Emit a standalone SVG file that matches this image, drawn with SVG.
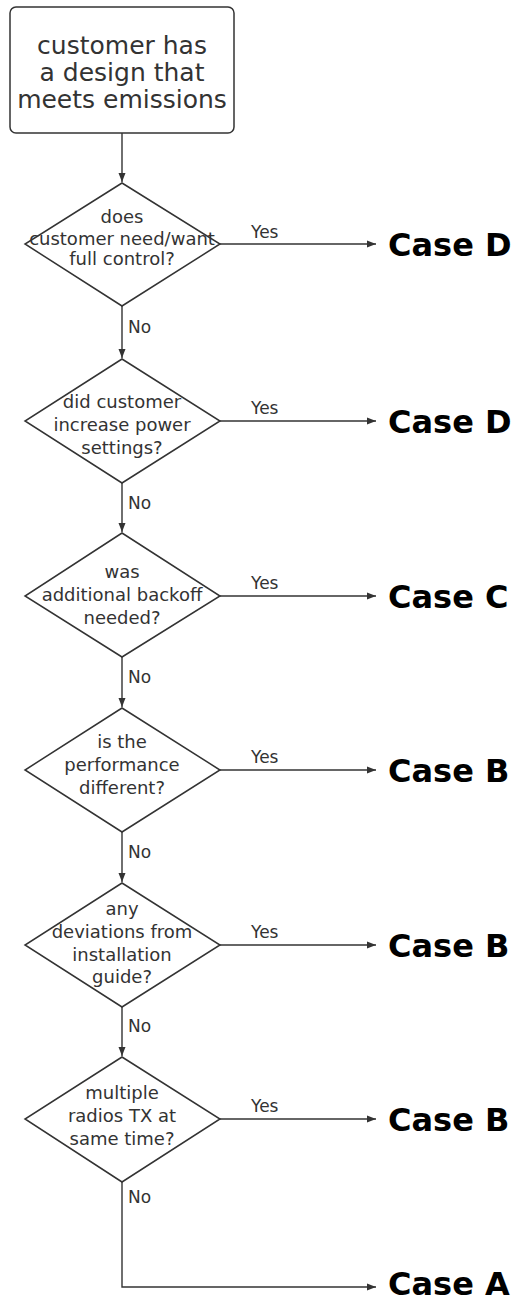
<svg xmlns="http://www.w3.org/2000/svg" width="517" height="1304" viewBox="0 0 517 1304">
<style>
.shape{fill:#fff;stroke:#333;stroke-width:1.5}
.q{font-family:"DejaVu Sans",Verdana,sans-serif;font-size:18px;fill:#333;text-anchor:middle}
.lbl{font-family:"DejaVu Sans",Verdana,sans-serif;font-size:17px;fill:#333}
.case{font-family:"DejaVu Sans",Verdana,sans-serif;font-size:32px;font-weight:bold;fill:#000}
.c{fill:none;stroke:#333;stroke-width:1.4;marker-end:url(#ah)}
</style>
<defs>
<marker id="ah" markerWidth="10" markerHeight="8" refX="9" refY="4" orient="auto" markerUnits="userSpaceOnUse">
<path d="M0,0.5 L9,4 L0,7.5 Z" fill="#333"/>
</marker>
</defs>
<rect width="517" height="1304" fill="#fff"/>
<g id="connectors">
<path class="c" d="M122,133 V182"/>
<path class="c" d="M122,306 V358"/>
<path class="c" d="M122,483 V532"/>
<path class="c" d="M122,657 V707"/>
<path class="c" d="M122,832 V882"/>
<path class="c" d="M122,1007 V1056"/>
<path class="c" d="M122,1182 V1287 H376"/>
<path class="c" d="M220,244 H376"/>
<path class="c" d="M220,421 H376"/>
<path class="c" d="M220,596 H376"/>
<path class="c" d="M220,770 H376"/>
<path class="c" d="M220,945 H376"/>
<path class="c" d="M220,1119 H376"/>
<text class="lbl" x="251" y="238">Yes</text>
<text class="lbl" x="251" y="414">Yes</text>
<text class="lbl" x="251" y="589">Yes</text>
<text class="lbl" x="251" y="763">Yes</text>
<text class="lbl" x="251" y="938">Yes</text>
<text class="lbl" x="251" y="1112">Yes</text>
<text class="lbl" x="128" y="333">No</text>
<text class="lbl" x="128" y="509">No</text>
<text class="lbl" x="128" y="683">No</text>
<text class="lbl" x="128" y="858">No</text>
<text class="lbl" x="128" y="1032">No</text>
<text class="lbl" x="128" y="1203">No</text>
</g>
<g id="start">
<rect class="shape" x="10" y="7" width="224" height="126" rx="6"/>
<text class="q" style="font-size:25px" x="122" y="54">customer has</text>
<text class="q" style="font-size:25px" x="122" y="81">a design that</text>
<text class="q" style="font-size:25px" x="122" y="108">meets emissions</text>
</g>
<g id="q1">
<polygon class="shape" points="122,183 220,244 122,306 25,244"/>
<text class="q" x="122" y="223">does</text>
<text class="q" x="122" y="245">customer need/want</text>
<text class="q" x="122" y="265">full control?</text>
</g>
<g id="q2">
<polygon class="shape" points="122,359 220,421 122,483 25,421"/>
<text class="q" x="122" y="408">did customer</text>
<text class="q" x="122" y="431">increase power</text>
<text class="q" x="122" y="454">settings?</text>
</g>
<g id="q3">
<polygon class="shape" points="122,533 220,596 122,657 25,596"/>
<text class="q" x="122" y="578">was</text>
<text class="q" x="122" y="601">additional backoff</text>
<text class="q" x="122" y="624">needed?</text>
</g>
<g id="q4">
<polygon class="shape" points="122,708 220,770 122,832 25,770"/>
<text class="q" x="122" y="748">is the</text>
<text class="q" x="122" y="771">performance</text>
<text class="q" x="122" y="794">different?</text>
</g>
<g id="q5">
<polygon class="shape" points="122,883 220,945 122,1007 25,945"/>
<text class="q" x="122" y="915">any</text>
<text class="q" x="122" y="938">deviations from</text>
<text class="q" x="122" y="961">installation</text>
<text class="q" x="122" y="983">guide?</text>
</g>
<g id="q6">
<polygon class="shape" points="122,1057 220,1119 122,1182 25,1119"/>
<text class="q" x="122" y="1099">multiple</text>
<text class="q" x="122" y="1122">radios TX at</text>
<text class="q" x="122" y="1145">same time?</text>
</g>
<g id="caseD1"><text class="case" x="388" y="256">Case D</text></g>
<g id="caseD2"><text class="case" x="388" y="433">Case D</text></g>
<g id="caseC"><text class="case" x="388" y="608">Case C</text></g>
<g id="caseB1"><text class="case" x="388" y="782">Case B</text></g>
<g id="caseB2"><text class="case" x="388" y="957">Case B</text></g>
<g id="caseB3"><text class="case" x="388" y="1131">Case B</text></g>
<g id="caseA"><text class="case" x="388" y="1295">Case A</text></g>
</svg>
